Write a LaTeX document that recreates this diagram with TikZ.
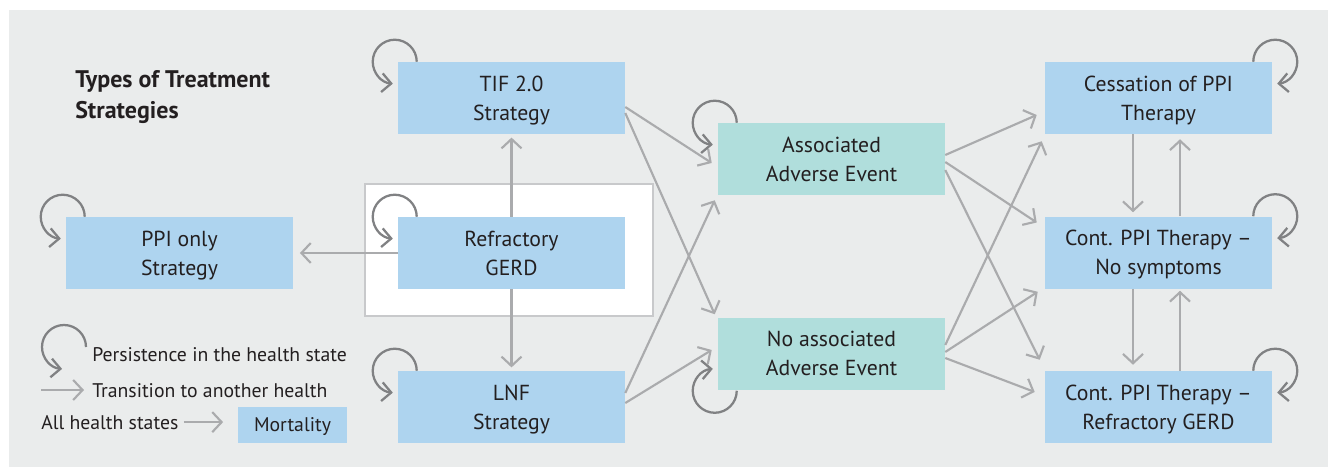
\documentclass[tikz,border=0pt]{standalone}
\usepackage{fontspec}
\setmainfont{PT Sans}
\usetikzlibrary{arrows.meta,calc}

\definecolor{bgGray}{RGB}{234,236,236}
\definecolor{stateBlue}{RGB}{174,212,239}
\definecolor{eventTeal}{RGB}{176,222,220}
\definecolor{arrowGray}{RGB}{170,171,173}
\definecolor{loopGray}{RGB}{128,129,131}
\definecolor{frameGray}{RGB}{200,201,203}
\definecolor{textDark}{RGB}{35,31,32}

\begin{document}
\begin{tikzpicture}[x=0.75pt,y=0.75pt,yscale=-1,xscale=1,
	state/.style={fill=stateBlue,text=textDark,minimum width=170.25pt,minimum height=54pt,inner sep=0pt,text depth=0pt,align=center,font=\fontsize{16.3}{21.8}\selectfont},
	event/.style={state,fill=eventTeal},
	trans/.style={draw=arrowGray,line width=1.6pt,-{Straight Barb[length=7pt,width=15pt]}},
	persist/.style={draw=loopGray,line width=1.7pt,-{Straight Barb[length=7pt,width=14pt]}},
	legtext/.style={text=textDark,inner sep=0pt,anchor=base west,font=\fontsize{14.8}{20}\selectfont}]
	\useasboundingbox (0,0) rectangle (1328,467);
	\fill[white] (0,0) rectangle (1328,467);
	\fill[bgGray] (9,10) rectangle (1328,467);
	\draw[frameGray,fill=white,line width=1.5pt] (365,184) rectangle (653,316);

	% title
	\node[anchor=base west,inner sep=0pt,align=left,text=textDark,font=\fontsize{18}{22.5}\selectfont\bfseries] (title) at (75,88) {Types of Treatment};
	\node[anchor=base west,inner sep=0pt,text=textDark,font=\fontsize{18}{22.5}\selectfont\bfseries] (title2) at (75,118) {Strategies};

	% health states
	\node[state] (ppi) at (179.5,253) {PPI only\\Strategy};
	\node[state] (tif) at (511.5,98) {TIF 2.0\\Strategy};
	\node[state] (refr) at (511.5,253) {Refractory\\GERD};
	\node[state] (lnf) at (511.5,407) {LNF\\Strategy};
	\node[event] (assoc) at (831.5,159) {Associated\\Adverse Event};
	\node[event] (noae) at (831.5,353.5) {No associated\\Adverse Event};
	\node[state] (cess) at (1158.5,98) {Cessation of PPI\\Therapy};
	\node[state] (nosym) at (1158.5,252.5) {Cont. PPI Therapy --\\No symptoms};
	\node[state] (refrc) at (1158.5,407) {Cont. PPI Therapy --\\Refractory GERD};

	% transitions
	\draw[trans,shorten >=2.5pt] (refr) -- (tif);
	\draw[trans,shorten >=2.5pt] (refr) -- (lnf);
	\draw[trans,shorten >=5pt] (refr) -- (ppi);
	\draw[trans] ($(tif.east)+(0,9)$) -- ($(assoc.west)+(-6,4)$);
	\draw[trans] ($(tif.east)+(0,15)$) -- ($(noae.north west)+(-3,-3)$);
	\draw[trans] ($(lnf.east)+(0,-14)$) -- ($(assoc.south west)+(-3,5)$);
	\draw[trans] ($(lnf.east)+(0,-4)$) -- ($(noae.west)+(-6,-3.5)$);
	\draw[trans] ($(assoc.east)+(0,-4)$) -- ($(cess.west)+(-8,17)$);
	\draw[trans] ($(assoc.east)+(0,3)$) -- ($(nosym.west)+(-8,-30)$);
	\draw[trans] ($(assoc.east)+(0,11)$) -- ($(refrc.north west)+(-5,-11)$);
	\draw[trans] ($(noae.east)+(0,-8.5)$) -- ($(cess.south west)+(-3,7)$);
	\draw[trans] ($(noae.east)+(0,-1.5)$) -- ($(nosym.south west)+(-7,3)$);
	\draw[trans] ($(noae.east)+(0,4.5)$) -- ($(refrc.west)+(-10,-15)$);
	\draw[trans] ($(cess.south)+(-25.5,0)$) -- ($(nosym.north)+(-25.5,-4)$);
	\draw[trans] ($(nosym.north)+(21.5,0)$) -- ($(cess.south)+(21.5,5)$);
	\draw[trans] ($(nosym.south)+(-25.5,0)$) -- ($(refrc.north)+(-25.5,-6)$);
	\draw[trans] ($(refrc.north)+(21.5,0)$) -- ($(nosym.south)+(21.5,2)$);

	% persistence loops
	\draw[persist] ($(ppi.north west)+(19,0)$) arc[start angle=0,end angle=-265,radius=22];
	\draw[persist] ($(tif.north west)+(19,0)$) arc[start angle=0,end angle=-265,radius=22];
	\draw[persist] ($(refr.north west)+(19,0)$) arc[start angle=0,end angle=-265,radius=22];
	\draw[persist] ($(lnf.north west)+(19,0)$) arc[start angle=0,end angle=-265,radius=22];
	\draw[persist] ($(assoc.north west)+(19,0)$) arc[start angle=0,end angle=-265,radius=22];
	\draw[persist] ($(noae.south west)+(19,1)$) arc[start angle=0,end angle=265,radius=22];
	\draw[persist] ($(cess.north east)+(-19,0)$) arc[start angle=180,end angle=445,radius=22];
	\draw[persist] ($(nosym.north east)+(-19,0)$) arc[start angle=180,end angle=445,radius=22];
	\draw[persist] ($(refrc.north east)+(-19,0)$) arc[start angle=180,end angle=445,radius=22];

	% legend
	\node[legtext] (legpers) at (92,361.5) {Persistence in the health state};
	\node[legtext] (legtrans) at (92,397) {Transition to another health};
	\node[legtext] (legall) at (41,429) {All health states};
	\node[state,minimum width=81.75pt,minimum height=27pt,font=\fontsize{14.8}{20}\selectfont] (mort) at (292.5,425) {Mortality};
	\coordinate (legfrom) at (41,390);
	\coordinate (legto) at (84,390);
	\draw[persist] (86,347) arc[start angle=0,end angle=-265,radius=22];
	\draw[trans] (legfrom) -- (legto);
	\draw[trans,shorten <=4pt,shorten >=11pt] (legall.east) -- (legall.east -| mort.west);
\end{tikzpicture}
\end{document}
